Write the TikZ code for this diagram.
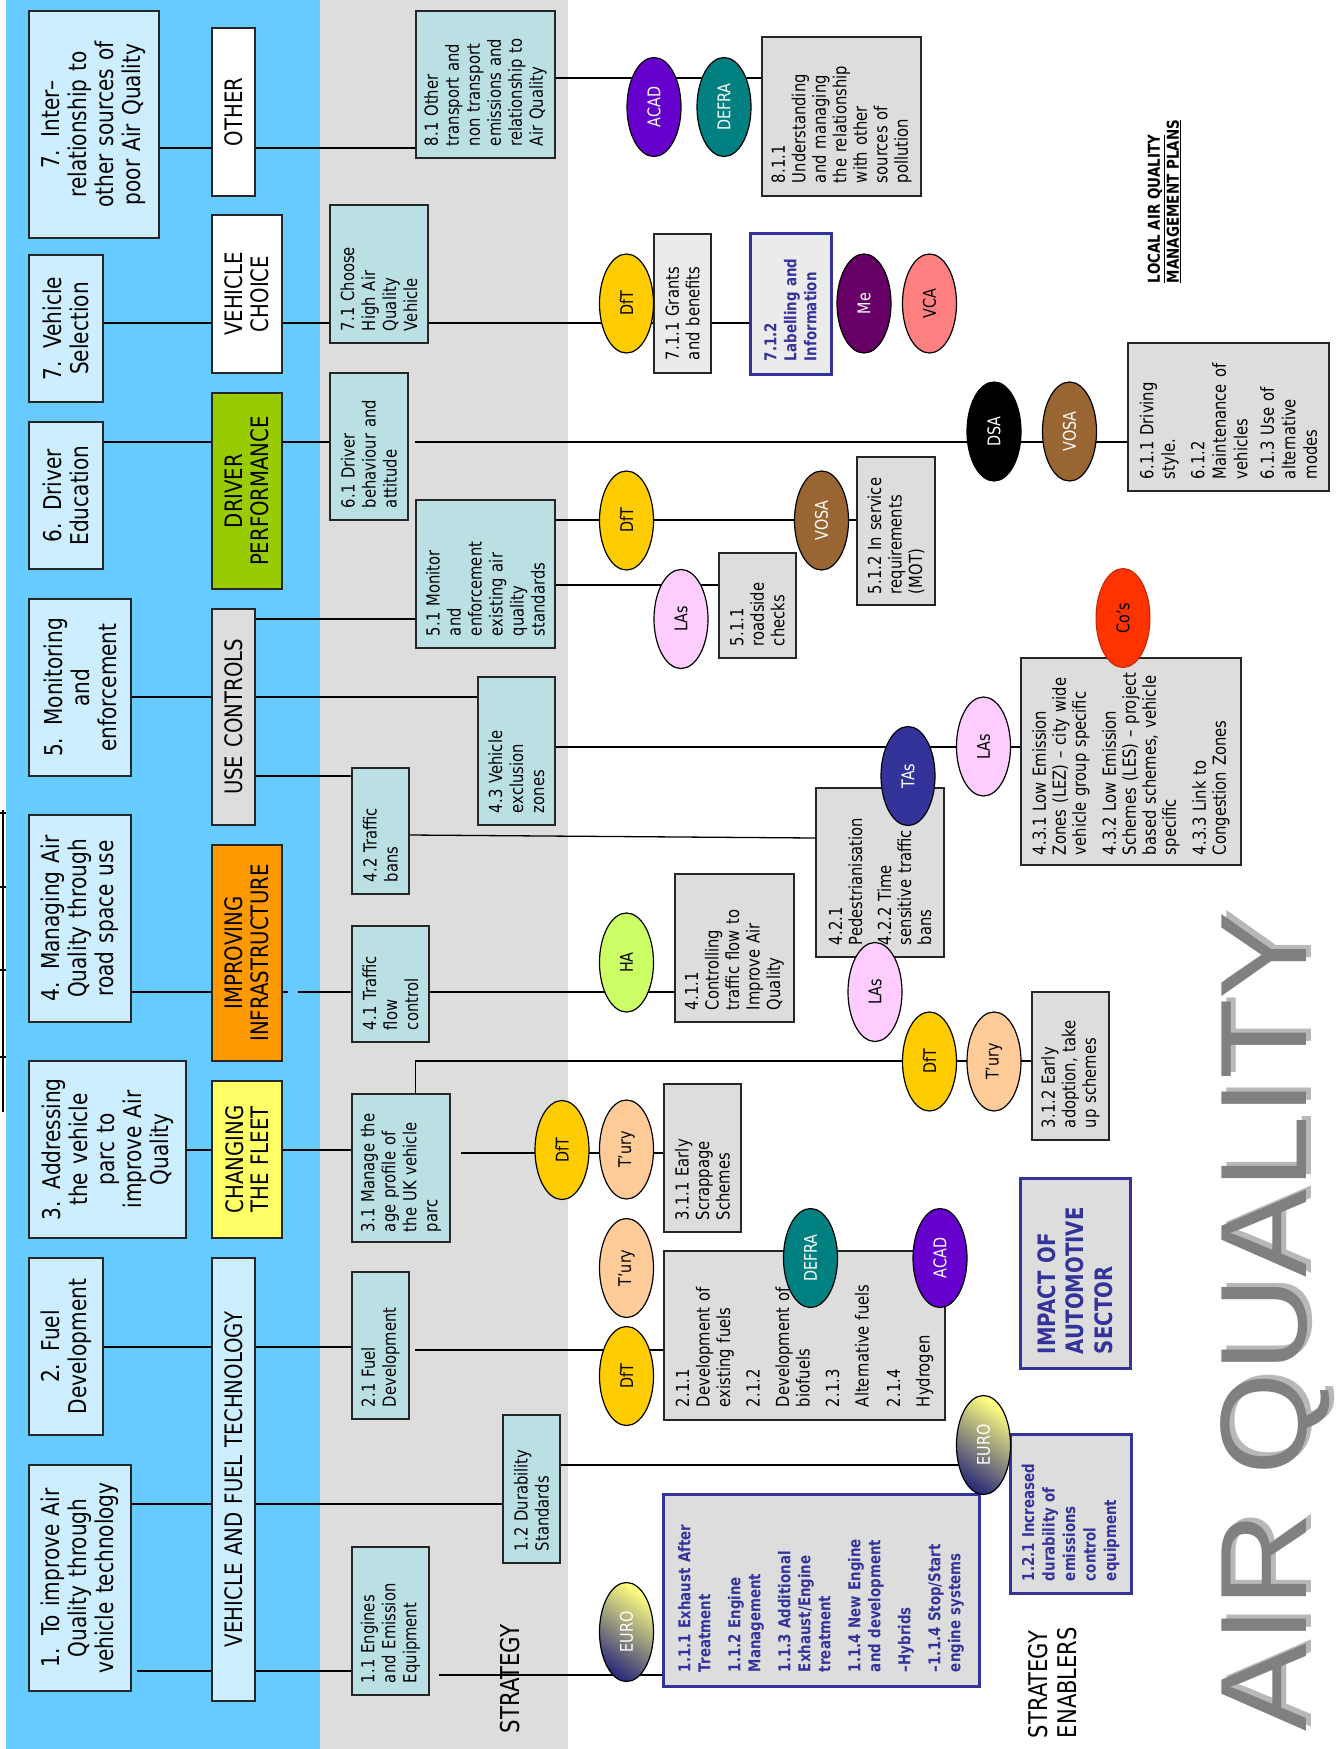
\documentclass[tikz,border=0pt]{standalone}
\usepackage{fontspec}
\usepackage{graphicx}
\usetikzlibrary{shapes.geometric,calc}
\setmainfont{DejaVu Sans}[FakeStretch=0.82]
\newfontfamily\bigletters{Liberation Sans}

\definecolor{bandblue}{HTML}{66CCFF}
\definecolor{bandgrey}{HTML}{DDDDDD}
\definecolor{panelgrey}{HTML}{EBEBEB}
\definecolor{paleblue}{HTML}{CCEEFF}
\definecolor{tealbox}{HTML}{BBE0E3}
\definecolor{drvgreen}{HTML}{99CC00}
\definecolor{infraorange}{HTML}{FF9900}
\definecolor{fleetyellow}{HTML}{FFFF66}
\definecolor{navyblue}{HTML}{333399}
\definecolor{dftgold}{HTML}{FFCC00}
\definecolor{turypeach}{HTML}{FFCC99}
\definecolor{lapink}{HTML}{FFCCFF}
\definecolor{halime}{HTML}{CCFF66}
\definecolor{acadviolet}{HTML}{6600CC}
\definecolor{defrateal}{HTML}{008080}
\definecolor{vosabrown}{HTML}{996633}
\definecolor{meplum}{HTML}{660066}
\definecolor{vcasalmon}{HTML}{FF8080}
\definecolor{cosred}{HTML}{FF3300}
\definecolor{euroyellow}{HTML}{FFFF80}
\definecolor{euronavy}{HTML}{2E2E7A}

\tikzset{
  panel/.style={rectangle, rotate=90, draw=black!85, line width=1.5pt, inner sep=0pt},
  goalbox/.style={panel, fill=paleblue, align=center, font=\fontsize{24.5}{27}\selectfont},
  themebox/.style={panel, align=center, font=\fontsize{24}{25.6}\selectfont},
  aimbox/.style={panel, fill=tealbox, align=left, font=\fontsize{18}{21}\selectfont},
  actbox/.style={panel, fill=bandgrey, align=left, font=\fontsize{18}{20.5}\selectfont},
  keybox/.style={panel, fill=bandgrey, draw=navyblue, line width=3pt, align=left, text=navyblue,
                 font=\fontsize{16.3}{20}\selectfont\bfseries},
  linkline/.style={draw=black, line width=1.3pt},
  ovalnode/.style={ellipse, draw=black, line width=1.2pt, inner sep=0pt,
                   minimum width=54pt, minimum height=99pt, font=\fontsize{17.5}{17.5}\selectfont},
  euronode/.style={ovalnode, top color=euroyellow, bottom color=euronavy, shading angle=-35, text=white},
  titletext/.style={rotate=90, anchor=base west, inner sep=0pt, font=\bigletters\fontsize{123}{123}\selectfont},
}

% rotated panel given by its page extents: name, style, x1, x2, y1, y2, margin, text
\newcommand\panelat[8]{%
  \pgfmathsetmacro\pnlW{#6-#5}%
  \pgfmathsetmacro\pnlH{#4-#3}%
  \pgfmathsetmacro\pnlT{#6-#5-2*#7}%
  \pgfmathsetmacro\pnlX{(#3+#4)/2}%
  \pgfmathsetmacro\pnlY{(#5+#6)/2}%
  \node[#2, minimum width=\pnlW pt, minimum height=\pnlH pt, text width=\pnlT pt] (#1) at (\pnlX,\pnlY) {#8};}

% agency oval: name, fill, text colour, centre, label
\newcommand\agency[5]{\node[ovalnode, fill=#2, text=#3] (#1) at (#4) {\rotatebox{90}{#5}};}

\begin{document}
\begin{tikzpicture}[x=1pt, y=-1pt]
\useasboundingbox (0,0) rectangle (1339,1749);

% background bands
\fill[white] (0,0) rectangle (1339,1749);
\fill[bandblue] (6,0) rectangle (320,1749);
\fill[bandgrey] (320,0) rectangle (568,1749);

% clipped mark on the left edge
\draw[line width=1.8pt] (3,810) -- (3,1112);
\foreach \ty in {813,887,970,1057} \draw[line width=1.5pt] (0,\ty) -- (6,\ty);

% ---------- goals ----------
\panelat{g7b}{goalbox}{29}{159}{11}{238}{4}{7. Inter–\\relationship to\\other sources of\\poor Air Quality}
\panelat{g7a}{goalbox}{29}{103}{255}{402}{4}{7. Vehicle\\Selection}
\panelat{g6}{goalbox}{29}{103}{422}{569}{4}{6. Driver\\Education}
\panelat{g5}{goalbox}{29}{131}{599}{776}{4}{5. Monitoring\\and\\enforcement}
\panelat{g4}{goalbox}{29}{131}{815}{1022}{4}{4. Managing Air\\Quality through\\road space use}
\panelat{g3}{goalbox}{29}{186}{1061}{1238}{4}{3. Addressing\\the vehicle\\parc to\\improve Air\\Quality}
\panelat{g2}{goalbox}{29}{103}{1258}{1435}{4}{2. Fuel\\Development}
\panelat{g1}{goalbox}{29}{131}{1465}{1691}{4}{1. To improve Air\\Quality through\\vehicle technology}

% ---------- themes ----------
\panelat{kOther}{themebox, fill=white}{212}{255}{28}{196}{4}{OTHER}
\panelat{kChoice}{themebox, fill=white}{212}{282}{215}{373}{4}{VEHICLE\\CHOICE}
\panelat{kDriver}{themebox, fill=drvgreen}{212}{282}{393}{589}{4}{DRIVER\\PERFORMANCE}
\panelat{kUse}{themebox, fill=bandgrey}{212}{255}{609}{825}{4}{USE CONTROLS}
\panelat{kInfra}{themebox, fill=infraorange}{212}{282}{845}{1061}{4}{IMPROVING\\INFRASTRUCTURE}
\panelat{kFleet}{themebox, fill=fleetyellow}{212}{282}{1081}{1238}{4}{CHANGING\\THE FLEET}
\panelat{kTech}{themebox, fill=paleblue}{212}{255}{1258}{1701}{4}{VEHICLE AND FUEL TECHNOLOGY}

% ---------- strategy aims ----------
\panelat{t81}{aimbox}{416}{555}{11}{158}{12}{8.1 Other\\transport and\\non transport\\emissions and\\relationship to\\Air Quality}
\panelat{t71}{aimbox}{330}{428}{205}{343}{12}{7.1 Choose\\High Air\\Quality\\Vehicle}
\panelat{t61}{aimbox}{330}{408}{373}{520}{12}{6.1 Driver\\behaviour and\\attitude}
\panelat{t51}{aimbox}{416}{555}{500}{648}{12}{5.1 Monitor\\and\\enforcement\\existing air\\quality\\standards}
\panelat{t43}{aimbox}{478}{555}{677}{825}{12}{4.3 Vehicle\\exclusion\\zones}
\panelat{t42}{aimbox}{352}{409}{768}{894}{12}{4.2 Traffic\\bans}
\panelat{t41}{aimbox}{352}{429}{926}{1042}{12}{4.1 Traffic\\flow\\control}
\panelat{t31}{aimbox}{352}{450}{1094}{1242}{10}{3.1 Manage the\\age profile of\\the UK vehicle\\parc}
\panelat{t21}{aimbox}{352}{409}{1272}{1419}{12}{2.1 Fuel\\Development}
\panelat{t12}{aimbox}{503}{560}{1415}{1563}{12}{1.2 Durability\\Standards}
\panelat{t11}{aimbox}{352}{429}{1547}{1695}{12}{1.1 Engines\\and Emission\\Equipment}

% helper points for offset line starts
\coordinate (gapA) at (288,992);
\coordinate (gapB) at (298,992);
\coordinate (s31) at ([xshift=10pt]t31.south);
\coordinate (s1) at ([xshift=5pt]g1.south);
\coordinate (s11) at ([xshift=9pt]t11.south);

% ---------- connectors: goals to themes to aims ----------
\draw[linkline] (g7b.south |- 0,148) -- (kOther.north |- 0,148);
\draw[linkline] (kOther.south |- 0,148) -- (t81.north |- 0,148);
\draw[linkline] (g7a.south |- 0,323) -- (kChoice.north |- 0,323);
\draw[linkline] (kChoice.south |- 0,323) -- (t71.north |- 0,323);
\draw[linkline] (g6.south |- 0,442) -- (kDriver.north |- 0,442);
\draw[linkline] (kDriver.south |- 0,442) -- (t61.north |- 0,442);
\draw[linkline] (g5.south |- 0,697) -- (kUse.north |- 0,697);
\draw[linkline] (kUse.south |- 0,619) -- (t51.north |- 0,619);
\draw[linkline] (kUse.south |- 0,697) -- (t43.north |- 0,697);
\draw[linkline] (kUse.south |- 0,776) -- (t42.north |- 0,776);
\draw[linkline] (g4.south |- 0,992) -- (kInfra.north |- 0,992);
\draw[linkline] (kInfra.south |- 0,992) -- (gapA);
\draw[linkline] (gapB) -- (t41.north |- 0,992);
\draw[linkline] (g3.south |- 0,1150) -- (kFleet.north |- 0,1150);
\draw[linkline] (kFleet.south |- 0,1150) -- (t31.north |- 0,1150);
\draw[linkline] (g2.south |- 0,1347) -- (kTech.north |- 0,1347);
\draw[linkline] (kTech.south |- 0,1347) -- (t21.north |- 0,1347);
\draw[linkline] (g1.south |- 0,1504) -- (kTech.north |- 0,1504);
\draw[linkline] (kTech.south |- 0,1504) -- (t12.north |- 0,1504);
\draw[linkline] (s1 |- 0,1671) -- (kTech.north |- 0,1671);
\draw[linkline] (kTech.south |- 0,1671) -- (t11.north |- 0,1671);

% ---------- actions ----------
\panelat{r811}{actbox}{762}{921}{37}{196}{13}{8.1.1\\Understanding\\and managing\\the relationship\\with other\\sources of\\pollution}
\panelat{r711}{actbox, fill=panelgrey}{654}{711}{234}{373}{13}{7.1.1 Grants\\and benefits}
\panelat{r712}{keybox, fill=panelgrey}{750}{831}{233}{374}{13}{7.1.2\\Labelling and\\Information}
\panelat{r611}{actbox, font=\fontsize{18}{21.5}\selectfont}{1128}{1329}{343}{491}{12}{6.1.1 Driving\\style.\\[8pt]6.1.2\\Maintenance of\\vehicles\\[5pt]6.1.3 Use of\\alternative\\modes}
\panelat{r512}{actbox}{857}{935}{457}{605}{11}{5.1.2 In service\\requirements\\(MOT)}
\panelat{r511}{actbox}{719}{796}{553}{658}{12}{5.1.1\\roadside\\checks}
\panelat{r43}{actbox, font=\fontsize{18}{20}\selectfont}{1021}{1241}{658}{865}{10}{4.3.1 Low Emission\\Zones (LEZ) – city wide\\vehicle group specific\\[10pt]4.3.2 Low Emission\\Schemes (LES) – project\\based schemes, vehicle\\specific\\[10pt]4.3.3 Link to\\Congestion Zones}
\panelat{r42}{actbox, font=\fontsize{18}{20}\selectfont}{816}{944}{788}{957}{12}{4.2.1\\Pedestrianisation\\[9pt]4.2.2 Time\\sensitive traffic\\bans}
\panelat{r411}{actbox}{675}{794}{874}{1022}{12}{4.1.1\\Controlling\\traffic flow to\\Improve Air\\Quality}
\panelat{r312}{actbox}{1032}{1109}{992}{1140}{12}{3.1.2 Early\\adoption, take\\up schemes}
\panelat{r311}{actbox}{664}{741}{1084}{1232}{12}{3.1.1 Early\\Scrappage\\Schemes}
\panelat{r21}{actbox}{664}{945}{1251}{1420}{13}{2.1.1\\Development of\\existing fuels\\[9pt]2.1.2\\[9pt]Development of\\biofuels\\[9pt]2.1.3\\[9pt]Alternative fuels\\[11pt]2.1.4\\[9pt]Hydrogen}
\panelat{r121}{keybox, font=\fontsize{16.3}{20.5}\selectfont\bfseries}{1010}{1131}{1434}{1593}{12}{1.2.1 Increased\\durability of\\emissions\\control\\equipment}
\panelat{r11}{keybox}{663}{979}{1494}{1686}{14}{1.1.1 Exhaust After\\Treatment\\[10pt]1.1.2 Engine\\Management\\[10pt]1.1.3 Additional\\Exhaust/Engine\\treatment\\[10pt]1.1.4 New Engine\\and development\\[10pt]–Hybrids\\[10pt]–1.1.4 Stop/Start\\engine systems}
\panelat{impact}{keybox, font=\fontsize{24}{28.7}\selectfont\bfseries}{1020}{1130}{1178}{1368}{14}{IMPACT OF\\AUTOMOTIVE\\SECTOR}

% ---------- connectors: aims to actions ----------
\draw[linkline] (t81.south |- 0,78) -- (r811.north |- 0,78);
\draw[linkline] (t71.south |- 0,323) -- (r711.north |- 0,323);
\draw[linkline] (r711.south |- 0,323) -- (r712.north |- 0,323);
\draw[linkline] (t51.north |- 0,442) -- (r611.north |- 0,442);
\draw[linkline] (t51.south |- 0,520) -- (r512.north |- 0,520);
\draw[linkline] (t51.south |- 0,585) -- (r511.north |- 0,585);
\draw[linkline] (t43.south |- 0,747) -- (r43.north |- 0,747);
\draw[linkline] (t42.south |- 0,835) -- (r42.north |- 0,838);
\draw[linkline] (t41.south |- 0,992) -- (r411.north |- 0,992);
\draw[linkline] (t51.north |- t31.east) |- (r312.north |- 0,1061);
\draw[linkline] (s31 |- 0,1153) -- (r311.north |- 0,1153);
\draw[linkline] (t51.north |- 0,1350) -- (r21.north |- 0,1350);
\draw[linkline] (t12.south |- 0,1465) -- (r121.north |- 0,1465);
\draw[linkline] (s11 |- 0,1675) -- (r11.north |- 0,1675);

% ---------- agencies ----------
\agency{eAcadA}{acadviolet}{white}{654,107}{ACAD}
\agency{eDefraA}{defrateal}{white}{724,107}{DEFRA}
\agency{eDftA}{dftgold}{black}{626.5,303.5}{DfT}
\agency{eMe}{meplum}{white}{864,303.5}{Me}
\agency{eVca}{vcasalmon}{black}{929.5,303.5}{VCA}
\agency{eDsa}{black}{white}{994,431.5}{DSA}
\agency{eVosaA}{vosabrown}{white}{1069.5,431.5}{VOSA}
\agency{eDftB}{dftgold}{black}{626.5,520.5}{DfT}
\agency{eVosaB}{vosabrown}{white}{821.5,520.5}{VOSA}
\agency{eLasA}{lapink}{black}{681,619}{LAs}
\node[ovalnode, fill=cosred, draw=cosred!75!black, line width=1pt] (eCos) at (1123,618) {\rotatebox{90}{Co’s}};
\agency{eTas}{navyblue}{white}{908,776}{TAs}
\agency{eLasB}{lapink}{black}{983.5,746.5}{LAs}
\agency{eHa}{halime}{black}{626.5,962.5}{HA}
\agency{eLasC}{lapink}{black}{875,992}{LAs}
\agency{eDftC}{dftgold}{black}{929.5,1061.5}{DfT}
\agency{eTuryA}{turypeach}{black}{994,1061.5}{T’ury}
\agency{eDftD}{dftgold}{black}{562,1150}{DfT}
\agency{eTuryB}{turypeach}{black}{626.5,1149.5}{T’ury}
\agency{eTuryC}{turypeach}{black}{626.5,1268}{T’ury}
\agency{eDftE}{dftgold}{black}{626.5,1376}{DfT}
\agency{eDefraB}{defrateal}{white}{810.5,1258}{DEFRA}
\agency{eAcadB}{acadviolet}{white}{940,1258}{ACAD}
\node[euronode] (eEuroB) at (983.5,1445) {\rotatebox{90}{EURO}};
\node[euronode] (eEuroA) at (626.5,1632) {\rotatebox{90}{EURO}};

% ---------- headings ----------
\node[rotate=90, inner sep=0pt, font=\fontsize{26}{29}\selectfont] (strategy) at (510,1679) {STRATEGY};
\node[rotate=90, inner sep=0pt, align=left, font=\fontsize{25.7}{29}\selectfont] (enablers) at (1053,1682.5) {STRATEGY\\ENABLERS};
\node[rotate=90, inner sep=0pt, align=left, font=\fontsize{16.4}{19}\selectfont\bfseries] (lqmp) at (1164.5,201.5)
  {\underline{LOCAL AIR QUALITY}\\\underline{MANAGEMENT PLANS}};

% large title with a light drop shadow
\node[titletext, text=black!28] (airshade) at (1311,1728) {\scalebox{1.072}[1]{AIR QUALITY}};
\node[titletext, text=black!50] (airtitle) at (1306,1732) {\scalebox{1.072}[1]{AIR QUALITY}};
\end{tikzpicture}
\end{document}
